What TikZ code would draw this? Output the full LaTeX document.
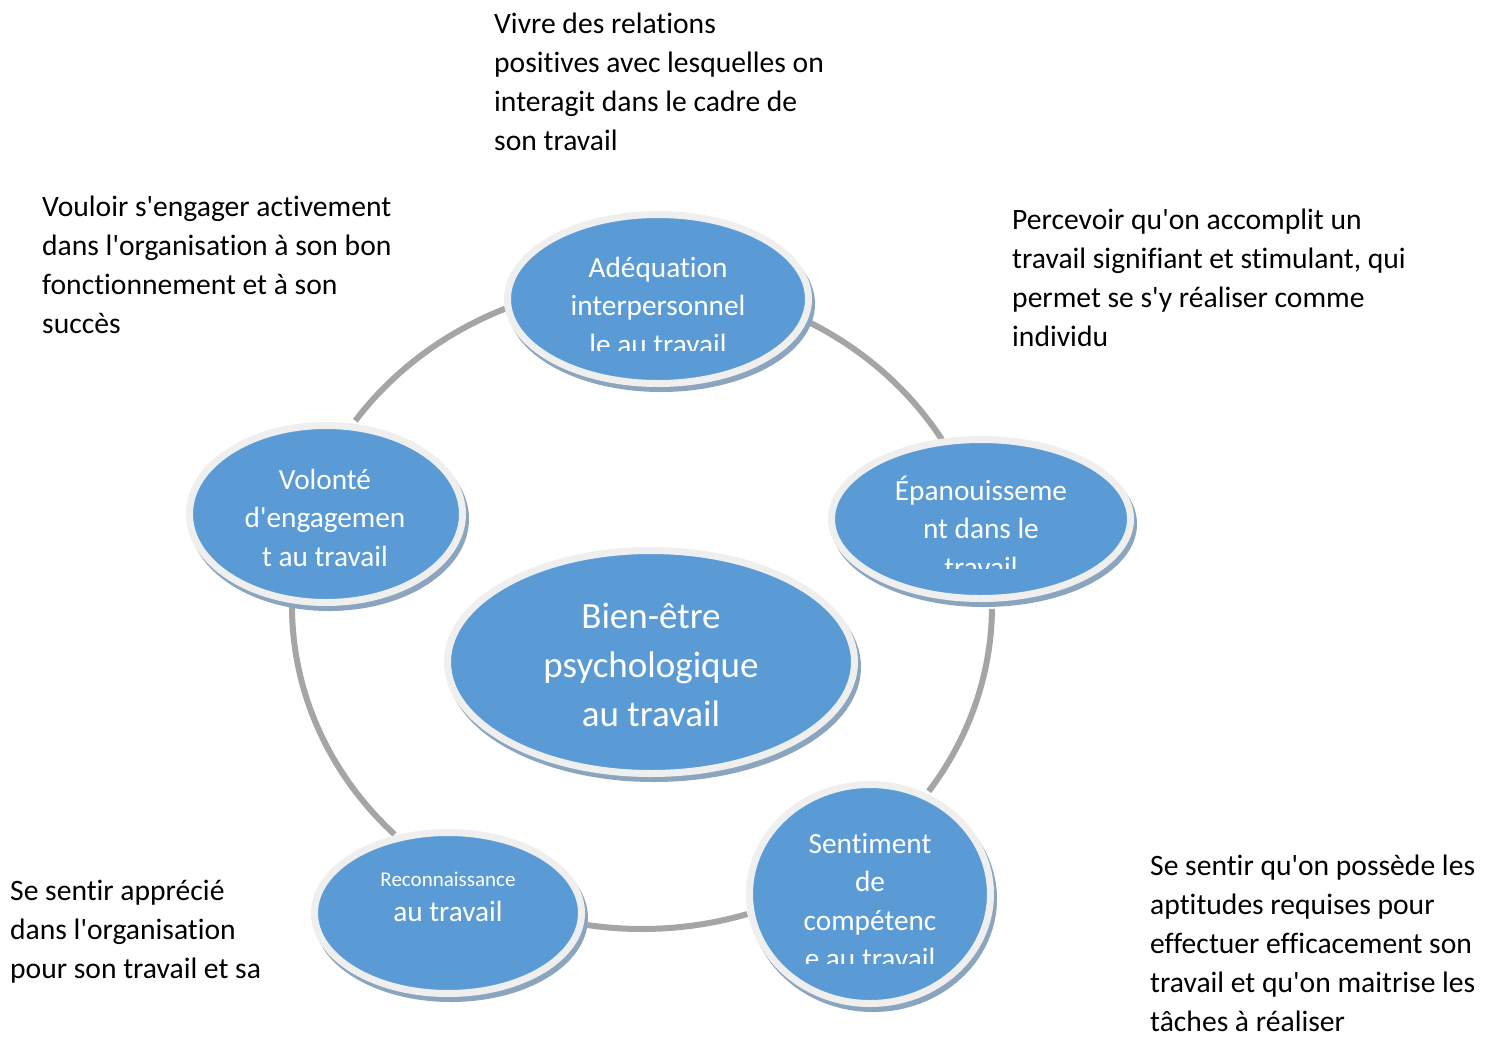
\documentclass[tikz,border=0pt]{standalone}
\usepackage{fontspec}
\setmainfont{Carlito}[Ligatures={TeXOff,NoCommon}]
\usetikzlibrary{shapes.geometric}
\definecolor{ringgray}{HTML}{A5A5A5}
\definecolor{nodeblue}{HTML}{5B9BD5}
\definecolor{rimgray}{HTML}{EFEFEF}
\definecolor{shadowblue}{HTML}{8CA5BF}
\begin{document}
\begin{tikzpicture}[x=1pt,y=-1pt,
  ringline/.style={draw=ringgray, line width=6pt},
  bubble/.style={ellipse, fill=nodeblue, draw=rimgray, line width=7pt, inner sep=0pt,
    preaction={fill=shadowblue, draw=shadowblue, line width=7pt,
      transform canvas={shift={(3pt,-5pt)}}}},
  intext/.style={text=white, align=center, inner sep=0pt, anchor=base,
    font=\fontsize{29.3}{38.5}\selectfont},
  note/.style={text=black, align=left, inner sep=0pt, anchor=base west,
    font=\fontsize{29.6}{38.8}\selectfont}
]
\useasboundingbox (0,0) rectangle (1491,1037);

% ring arcs
\coordinate (ring) at (642,606);
\draw[ringline] (ring) ++(-145:350 and 323) arc[start angle=-145, end angle=-113, x radius=350, y radius=323];
\draw[ringline] (ring) ++(-61.5:350 and 323) arc[start angle=-61.5, end angle=-31, x radius=350, y radius=323];
\draw[ringline] (ring) ++(0.5:350 and 323) arc[start angle=0.5, end angle=35, x radius=350, y radius=323];
\draw[ringline] (ring) ++(72.5:350 and 323) arc[start angle=72.5, end angle=99, x radius=350, y radius=323];
\draw[ringline] (ring) ++(135:350 and 323) arc[start angle=135, end angle=180, x radius=350, y radius=323];

% bubbles
\node[bubble, minimum width=301pt, minimum height=169pt] (adeq) at (658,299) {};
\node[bubble, minimum width=299pt, minimum height=159pt] (epan) at (981,519) {};
\node[bubble, minimum width=241pt, minimum height=219pt] (sent) at (870,894) {};
\node[bubble, minimum width=267pt, minimum height=161pt] (reco) at (448,913) {};
\node[bubble, minimum width=273pt, minimum height=177pt] (volo) at (326,514) {};
\node[bubble, minimum width=407pt, minimum height=223pt] (bien) at (651,662) {};

% texts in bubbles (anchor = baseline of last line)
\begin{scope}
  \clip (500,200) rectangle (820,350);
  \node[intext] (adeqtxt) at (658,354) {Adéquation\\interpersonnel\\le au travail};
\end{scope}
\begin{scope}
  \clip (820,430) rectangle (1140,568);
  \node[intext] (epantxt) at (981,577) {Épanouisseme\\nt dans le\\travail};
\end{scope}
\begin{scope}
  \clip (740,780) rectangle (1000,963);
  \node[intext] (senttxt) at (870,968.5) {Sentiment\\de\\compétenc\\e au travail};
\end{scope}
\node[intext, font=\fontsize{21}{35}\selectfont] (recotxt) at (448,921) {Reconnaissance\\\fontsize{29.3}{35}\selectfont au travail};
\node[intext] (volotxt) at (325,566) {Volonté\\d'engagemen\\t au travail};
\node[intext, font=\fontsize{37}{49}\selectfont] (bientxt) at (651,726) {Bien-être\\psychologique\\au travail};

% notes (anchor = baseline of last line)
\node[note] (n1) at (494,150) {Vivre des relations\\positives avec lesquelles on\\interagit dans le cadre de\\son travail};
\node[note] (n2) at (42,333) {Vouloir s'engager activement\\dans l'organisation à son bon\\fonctionnement et à son\\succès};
\node[note] (n3) at (1012,346) {Percevoir qu'on accomplit un\\travail signifiant et stimulant, qui\\permet se s'y réaliser comme\\individu};
\node[note] (n4) at (10,978) {Se sentir apprécié\\dans l'organisation\\pour son travail et sa};
\node[note] (n5) at (1150,1031) {Se sentir qu'on possède les\\aptitudes requises pour\\effectuer efficacement son\\travail et qu'on maitrise les\\tâches à réaliser};
\end{tikzpicture}
\end{document}
